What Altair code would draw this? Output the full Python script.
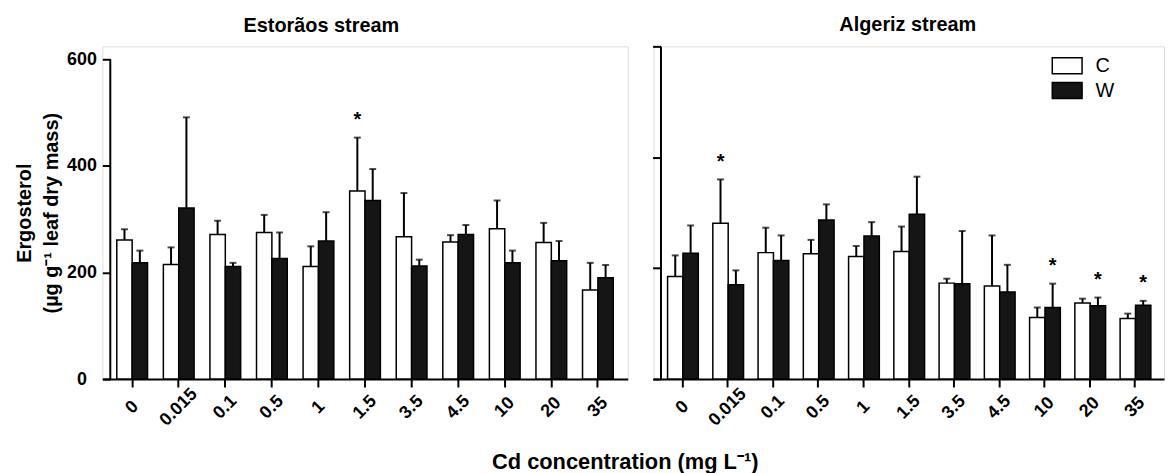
import altair as alt
import pandas as pd

FONT = "Liberation Sans"

# ---- data -------------------------------------------------------------
conc = ["0", "0.015", "0.1", "0.5", "1", "1.5", "3.5", "4.5", "10", "20", "35"]
groups = ["C", "W"]

# Estorãos stream (mean and upper error = SD)
est_C = [261, 215, 271, 275, 211, 353, 267, 257, 282, 256, 167]
est_C_sd = [20, 32, 26, 33, 38, 100, 82, 13, 53, 37, 51]
est_W = [218, 321, 211, 226, 259, 335, 212, 271, 218, 222, 190]
est_W_sd = [23, 170, 7, 49, 54, 59, 12, 18, 23, 37, 24]
est_stars = [("1.5", "C")]

# Algeriz stream
alg_C = [185, 281, 228, 226, 221, 230, 173, 168, 111, 137, 109]
alg_C_sd = [38, 79, 45, 25, 19, 45, 8, 91, 18, 8, 9]
alg_W = [227, 170, 214, 287, 258, 297, 172, 157, 129, 132, 133]
alg_W_sd = [50, 26, 45, 28, 25, 68, 95, 49, 43, 15, 8]
alg_stars = [("0.015", "C"), ("10", "W"), ("20", "W"), ("35", "W")]

y_ticks = [0, 200, 400, 600]
y_title = ["Ergosterol", "(µg g⁻¹ leaf dry mass)"]
x_title = "Cd concentration (mg L⁻¹)"
titles = ["Estorãos stream", "Algeriz stream"]


def make_df(C, Csd, W, Wsd, stars):
    rows = []
    for i, c in enumerate(conc):
        for g, v, s in (("C", C[i], Csd[i]), ("W", W[i], Wsd[i])):
            rows.append(dict(conc=c, grp=g, val=v, top=v + s,
                             star="*" if (c, g) in stars else ""))
    return pd.DataFrame(rows)


def panel(df, title, is_left, width, ymax, legend):
    xaxis = alt.Axis(title=None, labelAngle=-45, labelAlign="center",
                     labelBaseline="middle", labelPadding=20, tickSize=8,
                     tickWidth=2, tickColor="black", domainWidth=2,
                     domainColor="black", labelFont=FONT, labelFontSize=18,
                     labelFontWeight="bold", labelColor="black",
                     labelOverlap=False, labelBound=False, labelFlush=False)
    x = alt.X("conc:N", sort=conc,
              scale=alt.Scale(paddingInner=0.34, paddingOuter=0.31),
              axis=xaxis)
    xo = alt.XOffset("grp:N", sort=groups,
                     scale=alt.Scale(paddingInner=0, paddingOuter=0))
    ys = alt.Scale(domain=[0, ymax], nice=False, zero=True)
    if is_left:
        yaxis = alt.Axis(values=y_ticks, offset=-8, domain=False, tickSize=8,
                         tickWidth=2, tickColor="black", labelAlign="center",
                         labelPadding=21, labelFont=FONT, labelFontSize=18,
                         labelFontWeight="bold", labelColor="black",
                         title=y_title, titleFont=FONT, titleFontSize=20,
                         titleFontWeight="bold", titleColor="black",
                         titlePadding=5, titleLineHeight=27, grid=False)
    else:
        yaxis = alt.Axis(values=y_ticks, offset=-7, domain=True, domainWidth=2,
                         domainColor="black", tickSize=8, tickWidth=2,
                         tickColor="black", labels=False, title=None, grid=False)

    fill = alt.Fill("grp:N", sort=groups,
                    scale=alt.Scale(domain=groups, range=["white", "#151515"]),
                    legend=legend)
    base = alt.Chart(df)
    bars = base.mark_bar(stroke="black", strokeWidth=1.5).encode(
        x=x, xOffset=xo, y=alt.Y("val:Q", scale=ys, axis=yaxis), fill=fill)
    errs = base.mark_rule(color="black", strokeWidth=2).encode(
        x=x, xOffset=xo, y=alt.Y("val:Q", scale=ys, axis=yaxis), y2="top:Q")
    caps = base.mark_tick(color="black", thickness=2, size=7,
                          orient="horizontal").encode(
        x=x, xOffset=xo, y=alt.Y("top:Q", scale=ys, axis=yaxis))
    stars = base.transform_filter("datum.star != ''").mark_text(
        font=FONT, fontSize=20, fontWeight="bold", color="black",
        baseline="middle", dy=-18).encode(
        x=x, xOffset=xo, y=alt.Y("top:Q", scale=ys, axis=yaxis), text="star:N")
    layers = [bars, errs, caps, stars]
    if is_left:
        axis_df = pd.DataFrame({"val": [0], "top": [600]})
        axis_line = alt.Chart(axis_df).mark_rule(color="black", strokeWidth=2).encode(
            x=alt.value(8), y=alt.Y("val:Q", scale=ys, axis=yaxis), y2="top:Q")
        layers.append(axis_line)
    return alt.layer(*layers).properties(
        width=width, height=335,
        title=alt.TitleParams(title, font=FONT, fontSize=20, fontWeight="bold",
                              color="black", anchor="middle", frame="bounds",
                              offset=10))


legend = alt.Legend(title=None, orient="none", legendX=403, legendY=6,
                    symbolType="M-1.2,-0.64L1.2,-0.64L1.2,0.64L-1.2,0.64Z",
                    symbolSize=625, symbolStrokeColor="black",
                    symbolStrokeWidth=1.5, labelFont=FONT, labelFontSize=20,
                    labelColor="black", labelOffset=15, rowPadding=0, padding=0)

left = panel(make_df(est_C, est_C_sd, est_W, est_W_sd, est_stars),
             titles[0], True, 529, 624.2, None)
right = panel(make_df(alg_C, alg_C_sd, alg_W, alg_W_sd, alg_stars),
              titles[1], False, 514, 600, legend)

chart = alt.hconcat(left, right, spacing=22).resolve_scale(
    fill="independent").resolve_legend(fill="independent").properties(
    title=alt.TitleParams(x_title, orient="bottom", anchor="middle", dx=36,
                          offset=23, font=FONT, fontSize=22, fontWeight="bold",
                          color="black"),
    padding={"left": 6, "top": 5, "right": 0, "bottom": 0},
).configure_view(stroke=None).configure(background="white")

chart.save("out.html", embed_options={"renderer": "svg", "actions": False})
